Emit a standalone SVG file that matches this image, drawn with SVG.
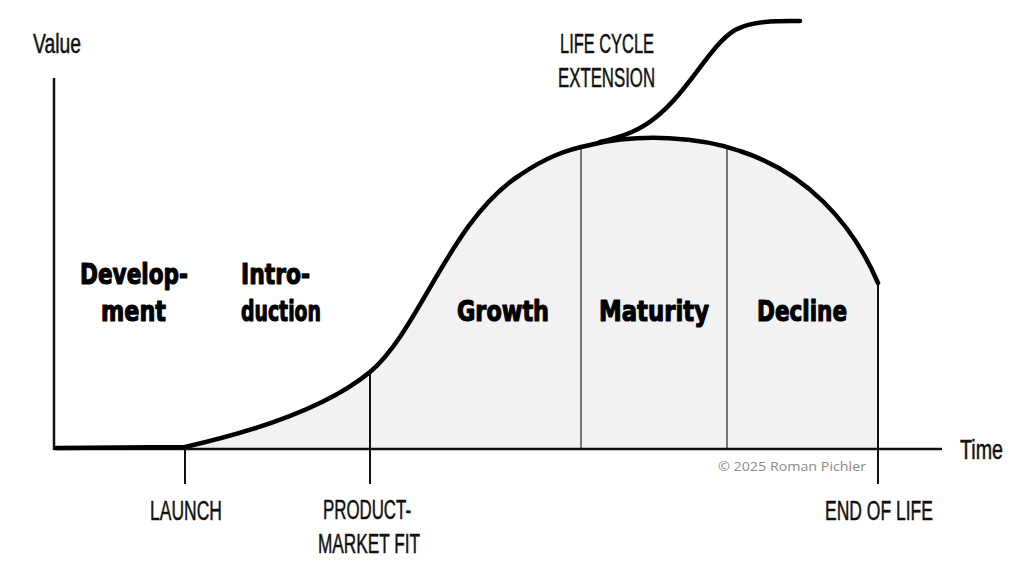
<svg xmlns="http://www.w3.org/2000/svg" width="1024" height="579" viewBox="0 0 1024 579">
<style>
.lbl{font-family:"Liberation Sans",Arial,sans-serif;font-size:27px;fill:#111;stroke:#111;stroke-width:0.5}
.ph{font-family:"DejaVu Sans",Lato,sans-serif;font-weight:bold;font-size:28px;fill:#000;stroke:#000;stroke-width:1.2;stroke-linejoin:round}
.axis{stroke:#111;stroke-width:2.5;fill:none}
.thin{stroke:#333;stroke-width:1.3;fill:none}
.mark{stroke:#111;stroke-width:2;fill:none}
.curve{stroke:#000;stroke-width:4.5;fill:none;stroke-linecap:round;stroke-linejoin:round}
</style>
<rect width="1024" height="579" fill="#fff"/>
<g id="area">
<path d="M185,447 C260,430 330,405 370,372 C420,330 450,220 520,175 C545,158 565,150 590,145 C640,133 700,137 740,151 C805,172 852,222 878,283 L878,449 L185,449 Z" fill="#f2f2f2"/>
</g>
<g id="connectors">
<line class="thin" x1="581" y1="147" x2="581" y2="449"/>
<line class="thin" x1="727" y1="146" x2="727" y2="449"/>
<line class="mark" x1="185" y1="447" x2="185" y2="484"/>
<line class="mark" x1="370" y1="372" x2="370" y2="484"/>
<line class="mark" x1="878" y1="283" x2="878" y2="484"/>
<path class="axis" d="M54,78 L54,449 L942,449"/>
<path class="curve" d="M56,448 L185,447 C260,430 330,405 370,372 C420,330 450,220 520,175 C545,158 565,150 590,145 C640,133 700,137 740,151 C805,172 852,222 878,283"/>
<path class="curve" d="M600,142 C625,136 640,130 655,118 C690,90 710,45 735,30 C755,20 780,21 800,21"/>
</g>
<g id="axis-labels">
<text class="lbl" x="33" y="53" textLength="48" lengthAdjust="spacingAndGlyphs">Value</text>
<text class="lbl" x="960" y="459" textLength="43" lengthAdjust="spacingAndGlyphs">Time</text>
</g>
<g id="extension">
<text class="lbl" x="560" y="53" textLength="94" lengthAdjust="spacingAndGlyphs">LIFE CYCLE</text>
<text class="lbl" x="558" y="87" textLength="97" lengthAdjust="spacingAndGlyphs">EXTENSION</text>
</g>
<g id="phase-development">
<text class="ph" x="80" y="284" textLength="108" lengthAdjust="spacingAndGlyphs">Develop-</text>
<text class="ph" x="101" y="321" textLength="65" lengthAdjust="spacingAndGlyphs">ment</text>
</g>
<g id="phase-introduction">
<text class="ph" x="241" y="284" textLength="69" lengthAdjust="spacingAndGlyphs">Intro-</text>
<text class="ph" x="241" y="321" textLength="80" lengthAdjust="spacingAndGlyphs">duction</text>
</g>
<g id="phase-growth"><text class="ph" x="457" y="321" textLength="92" lengthAdjust="spacingAndGlyphs">Growth</text></g>
<g id="phase-maturity"><text class="ph" x="599" y="321" textLength="110" lengthAdjust="spacingAndGlyphs">Maturity</text></g>
<g id="phase-decline"><text class="ph" x="757" y="321" textLength="90" lengthAdjust="spacingAndGlyphs">Decline</text></g>
<g id="milestone-launch"><text class="lbl" x="150" y="520" textLength="72" lengthAdjust="spacingAndGlyphs">LAUNCH</text></g>
<g id="milestone-pmf">
<text class="lbl" x="323" y="519" textLength="88" lengthAdjust="spacingAndGlyphs">PRODUCT-</text>
<text class="lbl" x="318" y="553" textLength="102" lengthAdjust="spacingAndGlyphs">MARKET FIT</text>
</g>
<g id="milestone-eol"><text class="lbl" x="825" y="520" textLength="108" lengthAdjust="spacingAndGlyphs">END OF LIFE</text></g>
<g id="copyright"><text x="718" y="471" font-family="'Open Sans','DejaVu Sans',sans-serif" font-size="13" fill="#8a8a8a" textLength="148" lengthAdjust="spacingAndGlyphs">© 2025 Roman Pichler</text></g>
</svg>
